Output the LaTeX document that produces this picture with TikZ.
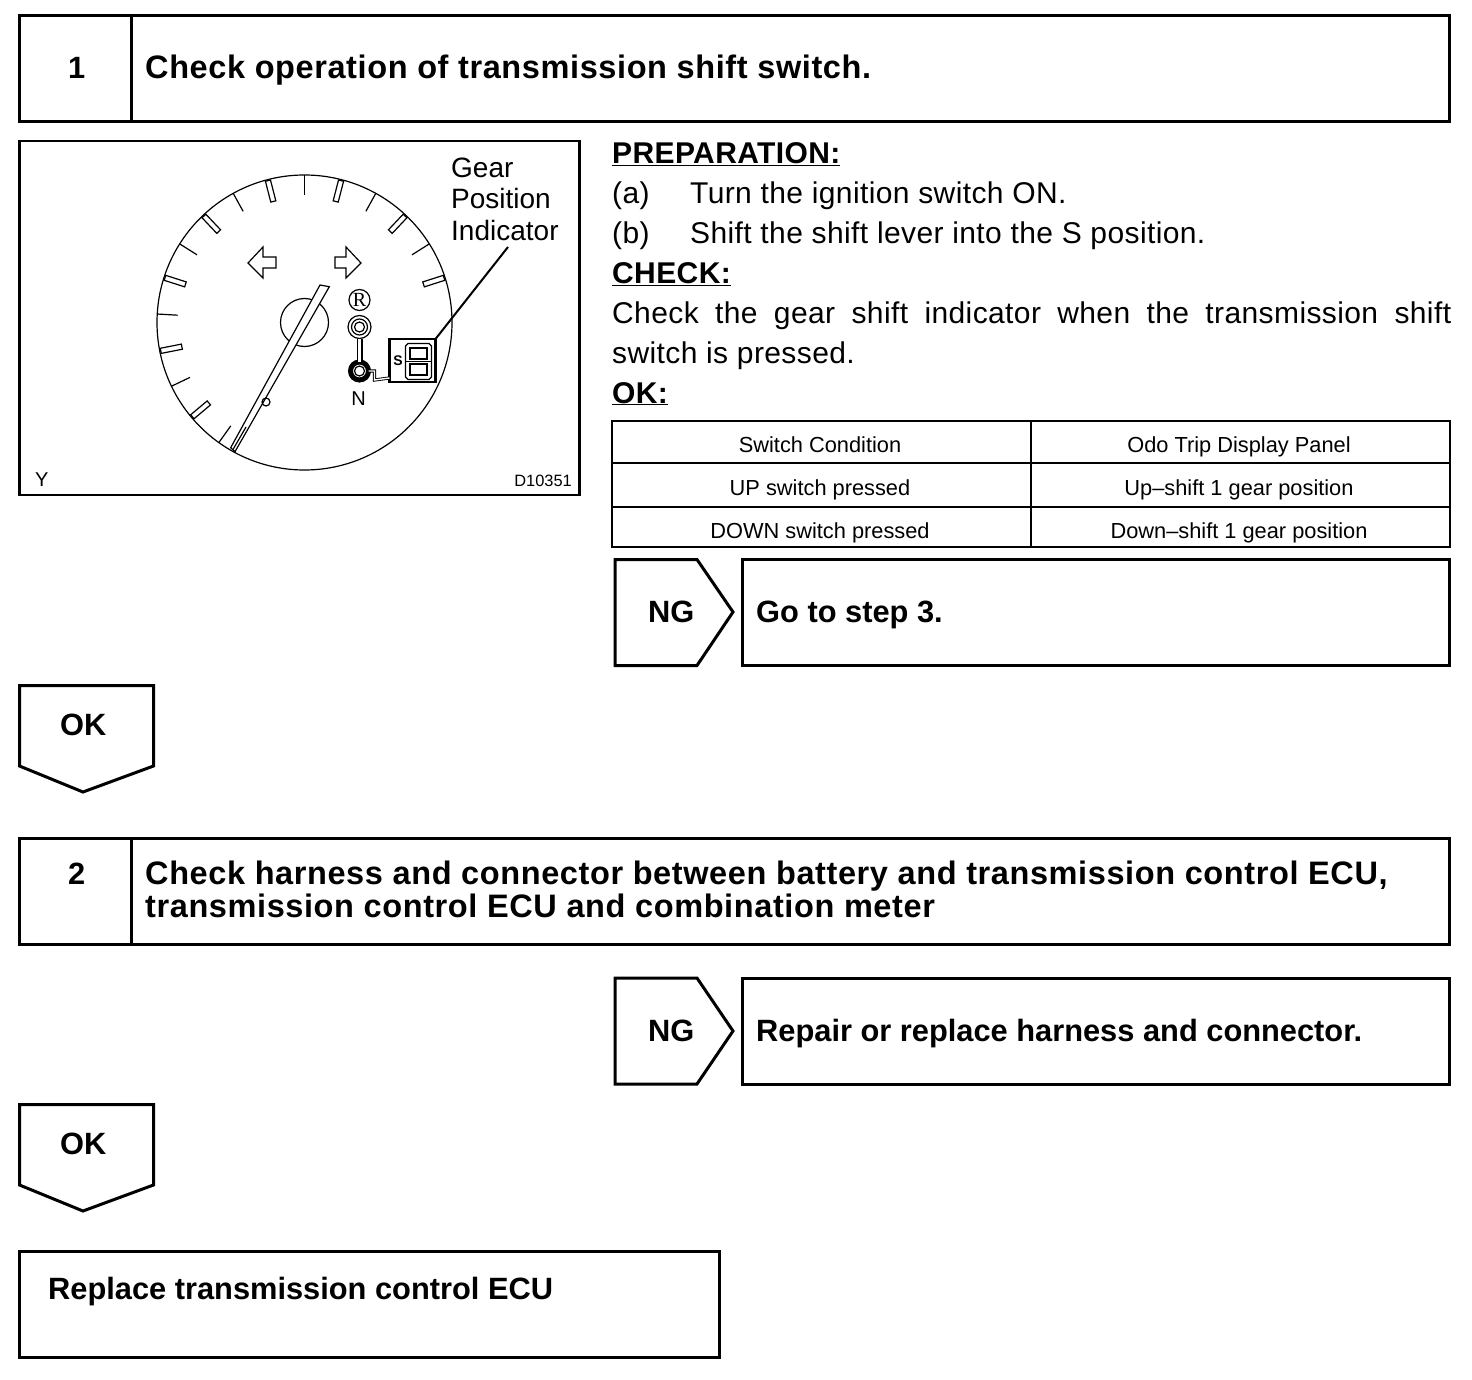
\documentclass[tikz,border=0pt]{standalone}
\usepackage{fontspec}
\setmainfont{Liberation Sans}
\usetikzlibrary{positioning,calc,shapes.geometric}
\newcommand{\fsz}[1]{\fontsize{#1}{#1}\selectfont}
\begin{document}
\begin{tikzpicture}[x=1pt,y=-1pt,
    framebox/.style={draw=black, line width=3pt, inner sep=0pt, outer sep=0pt, anchor=north west},
    headtext/.style={font=\fsz{30.8}\bfseries, anchor=base west, inner sep=0pt},
    titletext/.style={font=\fsz{32.5}\bfseries\addfontfeature{LetterSpace=1.85}, anchor=base west, inner sep=0pt},
    bodytext/.style={font=\fsz{30}\addfontfeature{LetterSpace=1.3}, anchor=base west, inner sep=0pt},
    bodyhead/.style={font=\fsz{30}\bfseries\addfontfeature{LetterSpace=1.3}, anchor=base west, inner sep=0pt},
    celltext/.style={font=\fsz{21.8}, anchor=base, inner sep=0pt},
    figtext/.style={font=\fsz{28}, inner sep=0pt, anchor=base west},
    tagline/.style={draw=black, line width=3pt, line join=miter},
    tableline/.style={draw=black, line width=2.3pt},
    thinline/.style={draw=black, line width=1.2pt},
  ]
  \useasboundingbox (0,0) rectangle (1472,1380);
  % step 1
  \node[framebox, minimum width=1430pt, minimum height=106pt] (head1) at (19.5,15.7) {};
  \draw[tagline] (131.5,15.7) -- (131.5,121.7);
  \node[headtext] (num1) at (68,79) {1};
  \node[titletext] (title1) at (145,79) {Check operation of transmission shift switch.};
  % picture of the meter
  \node[framebox, line width=2.5pt, minimum width=560pt, minimum height=354pt] (figbox) at (19.5,141) {};
  \node[figtext, font=\fsz{20}] (figy) at (35,486) {Y};
  \node[figtext, font=\fsz{16.4}, anchor=base east] (figno) at (572,486) {D10351};
  \node[figtext] (lab1) at (451,178) {Gear};
  \node[figtext] (lab2) at (451,209) {Position};
  \node[figtext] (lab3) at (451,241) {Indicator};
  \begin{scope}[shift={(304.5,322.5)}]
    \draw[thinline] (0,0) circle (147.5pt);
    \draw[thinline] (0,0) circle (24pt);
    % ticks, counted from the top
    \foreach \k in {-4,-2,...,10} {
      \draw[thinline,rotate=\k*14.45] (0,-147.5) -- (0,-127);
    }
    \foreach \k in {-5,-3,...,9} {
      \draw[thinline,rotate=\k*14.45] (-2.6,-146.5) rectangle (2.6,-125);
    }
  \end{scope}
  \draw[thinline,fill=white] (320,285) -- (329.3,286.7) -- (235,451.7) -- (230.7,447.7) -- cycle;
  \draw[thinline] (233,449.5) -- (246,427);
  \draw[thinline] (266,402) circle (4pt);
  \draw[thinline] (248,263) -- (263,247) -- (263,257) -- (276,257) -- (276,268) -- (263,268) -- (263,278) -- cycle;
  \draw[thinline] (361,263) -- (346,247) -- (346,257) -- (335,257) -- (335,268) -- (346,268) -- (346,278) -- cycle;
  % indicator lamps
  \node[draw, circle, line width=1.2pt, minimum size=21pt, inner sep=0pt, font=\fontspec{Liberation Serif}\fsz{20}] (lampr) at (359.5,300) {R};
  \node[draw, circle, line width=1.2pt, minimum size=23pt, inner sep=0pt] (lamps) at (359.5,327) {};
  \draw[thinline] (lamps) circle (8pt);
  \draw[thinline] (lamps) circle (5pt);
  \node[draw, circle, line width=5pt, minimum size=18pt, inner sep=0pt, outer sep=0pt] (lampn) at (359.5,371) {};
  \draw[thinline] (lampn) circle (5pt);
  \draw[line width=1.5pt, double, double distance=3pt] (lamps) ++(0,11.5) -- (lampn.north);
  \node[font=\fsz{20}, inner sep=0pt] (letn) at (358.5,399) {N};
  % gear display
  \node[draw, line width=2.5pt, minimum width=46pt, minimum height=43pt, inner sep=0pt, outer sep=0pt] (display) at (412.5,360.5) {};
  \draw[line width=0.9pt, double, double distance=1.4pt] (lampn.east) -- ++(6,0) -- ++(0,9) -- (display.west |- 0,378);
  \node[font=\fsz{14}\bfseries, inner sep=0pt] (lets) at (398,361) {S};
  % the digit: outline, two windows, middle bar
  \draw[thinline] (408,343.5) -- (429,343.5) -- (431.5,346) -- (431.5,377) -- (429,379.5) -- (408,379.5) -- (405.5,377) -- (405.5,346) -- cycle;
  \draw[thinline] (410,348) -- (427,348) -- (427,359) -- (410,359) -- cycle;
  \draw[thinline] (410,364) -- (427,364) -- (427,375) -- (410,375) -- cycle;
  \draw[thinline] (405.5,361.5) -- (431.5,361.5);
  \coordinate (leadend) at (508,247);
  \draw[line width=2pt] (display.north east) -- (leadend);
  % right column
  \node[bodyhead] (prep) at (612,163.7) {\underline{PREPARATION:}};
  \node[bodytext] (a) at (612,203.7) {(a)};
  \node[bodytext] (atext) at (690,203.7) {Turn the ignition switch ON.};
  \node[bodytext] (b) at (612,243.7) {(b)};
  \node[bodytext] (btext) at (690,243.7) {Shift the shift lever into the S position.};
  \node[bodyhead] (check) at (612,283.7) {\underline{CHECK:}};
  \node[bodytext] (checkone) at (612,323.7) {\makebox[839pt][s]{Check the gear shift indicator when the transmission shift}};
  \node[bodytext] (checktwo) at (612,363) {switch is pressed.};
  \node[bodyhead] (ok) at (612,403) {\underline{OK:}};
  % table
  \node[framebox, line width=2.3pt, minimum width=838pt, minimum height=126pt] (tabbox) at (612,421) {};
  \draw[tableline] (1031,421) -- (1031,547);
  \draw[tableline] (tabbox.west |- 0,463) -- (tabbox.east |- 0,463);
  \draw[tableline] (tabbox.west |- 0,507) -- (tabbox.east |- 0,507);
  \node[celltext] (c11) at (820,452) {Switch Condition};
  \node[celltext] (c12) at (1239,452) {Odo Trip Display Panel};
  \node[celltext] (c21) at (820,495.5) {UP switch pressed};
  \node[celltext] (c22) at (1239,495.5) {Up–shift 1 gear position};
  \node[celltext] (c31) at (820,538) {DOWN switch pressed};
  \node[celltext] (c32) at (1239,538) {Down–shift 1 gear position};
  % NG 1
  \draw[tagline] (615,559.5) -- (697,559.5) -- (733,612) -- (697,665.5) -- (615,665.5) -- cycle;
  \node[headtext] (ng1) at (648,622.5) {NG};
  \node[framebox, minimum width=707pt, minimum height=106pt] (ngbox1) at (742,559.5) {};
  \node[headtext] (ngtext1) at (756,622.5) {Go to step 3.};
  % OK 1
  \draw[tagline] (19.5,685.5) -- (153.5,685.5) -- (153.5,766) -- (83,792) -- (19.5,766) -- cycle;
  \node[headtext] (ok1) at (60,735.5) {OK};
  % step 2
  \node[framebox, minimum width=1430pt, minimum height=106pt] (head2) at (19.5,838) {};
  \draw[tagline] (131.5,838) -- (131.5,944);
  \node[headtext] (num2) at (68,884) {2};
  \node[titletext] (title2) at (145,884) {Check harness and connector between battery and transmission control ECU,};
  \node[titletext] (title3) at (145,917) {transmission control ECU and combination meter};
  % NG 2
  \draw[tagline] (615,978) -- (697,978) -- (733,1031) -- (697,1084) -- (615,1084) -- cycle;
  \node[headtext] (ng2) at (648,1041) {NG};
  \node[framebox, minimum width=707pt, minimum height=106pt] (ngbox2) at (742,978) {};
  \node[headtext] (ngtext2) at (756,1041) {Repair or replace harness and connector.};
  % OK 2
  \draw[tagline] (19.5,1104.5) -- (153.5,1104.5) -- (153.5,1185) -- (83,1211) -- (19.5,1185) -- cycle;
  \node[headtext] (ok2) at (60,1154.5) {OK};
  % last box
  \node[framebox, minimum width=700pt, minimum height=106pt] (lastbox) at (19.5,1251) {};
  \node[headtext] (lasttext) at (48,1299) {Replace transmission control ECU};
\end{tikzpicture}
\end{document}
